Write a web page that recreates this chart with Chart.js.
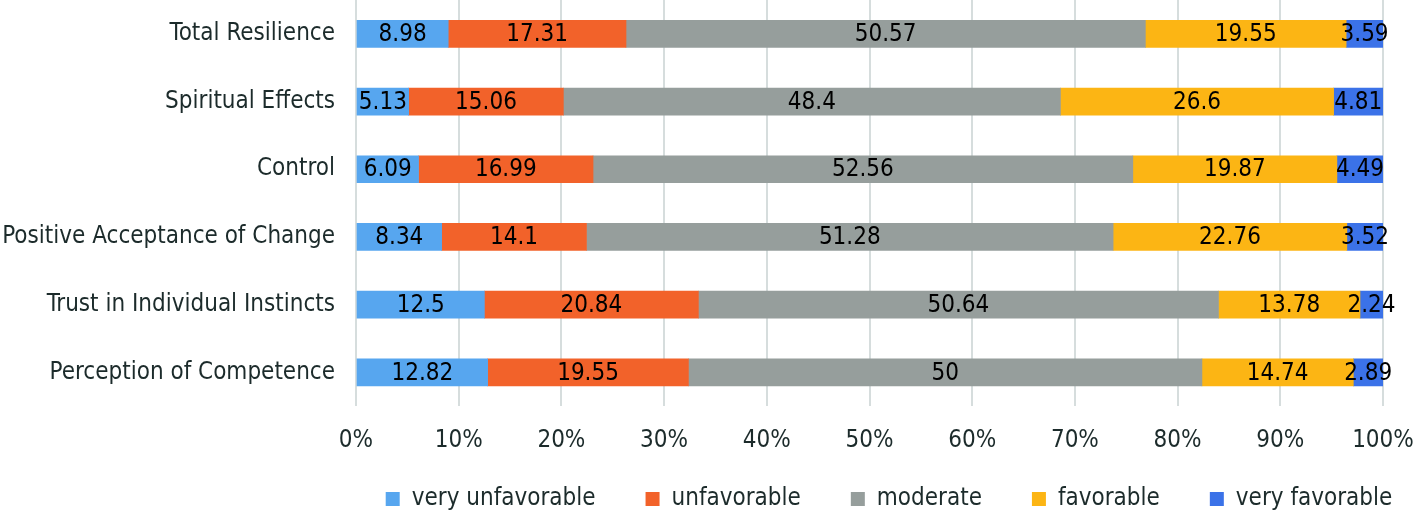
<!DOCTYPE html>
<html lang="en">
<head>
  <meta charset="UTF-8" />
  <title>Resilience dimensions</title>
  <script src="https://cdn.jsdelivr.net/npm/chart.js"></script>
  <style>
    html, body { margin: 0; padding: 0; background: #fff; }
    #wrap { width: 1418px; height: 515px; }
  </style>
</head>
<body>
  <div id="wrap"><canvas id="chart"></canvas></div>

  <script>
    // categories (top to bottom)
    const categories = ["Total Resilience", "Spiritual Effects", "Control",
      "Positive Acceptance of Change", "Trust in Individual Instincts", "Perception of Competence"];

    // series values (%)
    const veryUnfavorable = [8.98, 5.13, 6.09, 8.34, 12.5, 12.82];
    const unfavorable     = [17.31, 15.06, 16.99, 14.1, 20.84, 19.55];
    const moderate        = [50.57, 48.4, 52.56, 51.28, 50.64, 50];
    const favorable       = [19.55, 26.6, 19.87, 22.76, 13.78, 14.74];
    const veryFavorable   = [3.59, 4.81, 4.49, 3.52, 2.24, 2.89];

    const seriesNames = ["very unfavorable", "unfavorable", "moderate", "favorable", "very favorable"];
    const seriesColors = ["#57a6ef", "#f2622a", "#969e9c", "#fcb514", "#3b72e8"];
    const seriesData = [veryUnfavorable, unfavorable, moderate, favorable, veryFavorable];

    const FONT = "'DejaVu Sans Condensed', 'DejaVu Sans', sans-serif";
    const TEXT = "#1c2b2b";
    const SIZE = 24;

    // draw the value in the middle of each segment
    const valueLabels = {
      id: 'valueLabels',
      afterDatasetsDraw(chart) {
        const ctx = chart.ctx;
        ctx.save();
        ctx.font = SIZE + "px " + FONT;
        ctx.fillStyle = "#000";
        ctx.textAlign = "center";
        ctx.textBaseline = "middle";
        chart.data.datasets.forEach((ds, i) => {
          chart.getDatasetMeta(i).data.forEach((bar, j) => {
            const mid = (bar.x + bar.base) / 2;
            ctx.fillText(String(ds.data[j]), mid, bar.y + 1);
          });
        });
        ctx.restore();
      }
    };

    // legend: wide gaps between items, short box, centred under the plot
    const legendPlace = {
      id: 'legendPlace',
      beforeInit(chart) {
        const orig = chart.legend.fit;
        chart.legend.fit = function () {
          orig.call(this);
          this.height = 40;
        };
      },
      afterLayout(chart) {
        const lg = chart.legend;
        lg.top = 499 - lg.options.labels.padding - SIZE / 2;
        lg.bottom = chart.height;
        lg.left += 180;
        lg.right += 180;
      }
    };

    new Chart(document.getElementById('chart'), {
      type: 'bar',
      data: {
        labels: categories,
        datasets: seriesData.map((d, i) => ({
          label: seriesNames[i],
          data: d,
          backgroundColor: seriesColors[i],
          barThickness: 27
        }))
      },
      options: {
        indexAxis: 'y',
        responsive: true,
        maintainAspectRatio: false,
        animation: false,
        layout: { padding: 0 },
        plugins: {
          tooltip: { enabled: false },
          legend: {
            position: 'bottom',
            labels: {
              boxWidth: 14,
              boxHeight: 14,
              padding: 50,
              color: TEXT,
              font: { family: FONT, size: SIZE }
            }
          }
        },
        scales: {
          x: {
            stacked: true,
            min: 0,
            max: 100,
            border: { display: false },
            grid: { color: "#d6dddd", lineWidth: 2, drawTicks: false },
            afterFit: s => { s.paddingLeft = 0; s.paddingRight = 35; },
            ticks: {
              stepSize: 10,
              padding: 20,
              color: TEXT,
              font: { family: FONT, size: SIZE },
              callback: v => v + "%"
            }
          },
          y: {
            stacked: true,
            border: { display: false },
            grid: { display: false },
            afterFit: s => { s.width = 356; s.paddingTop = 0; s.paddingBottom = 0; },
            ticks: {
              padding: 13,
              color: TEXT,
              font: { family: FONT, size: SIZE }
            }
          }
        }
      },
      plugins: [valueLabels, legendPlace]
    });
  </script>
</body>
</html>
